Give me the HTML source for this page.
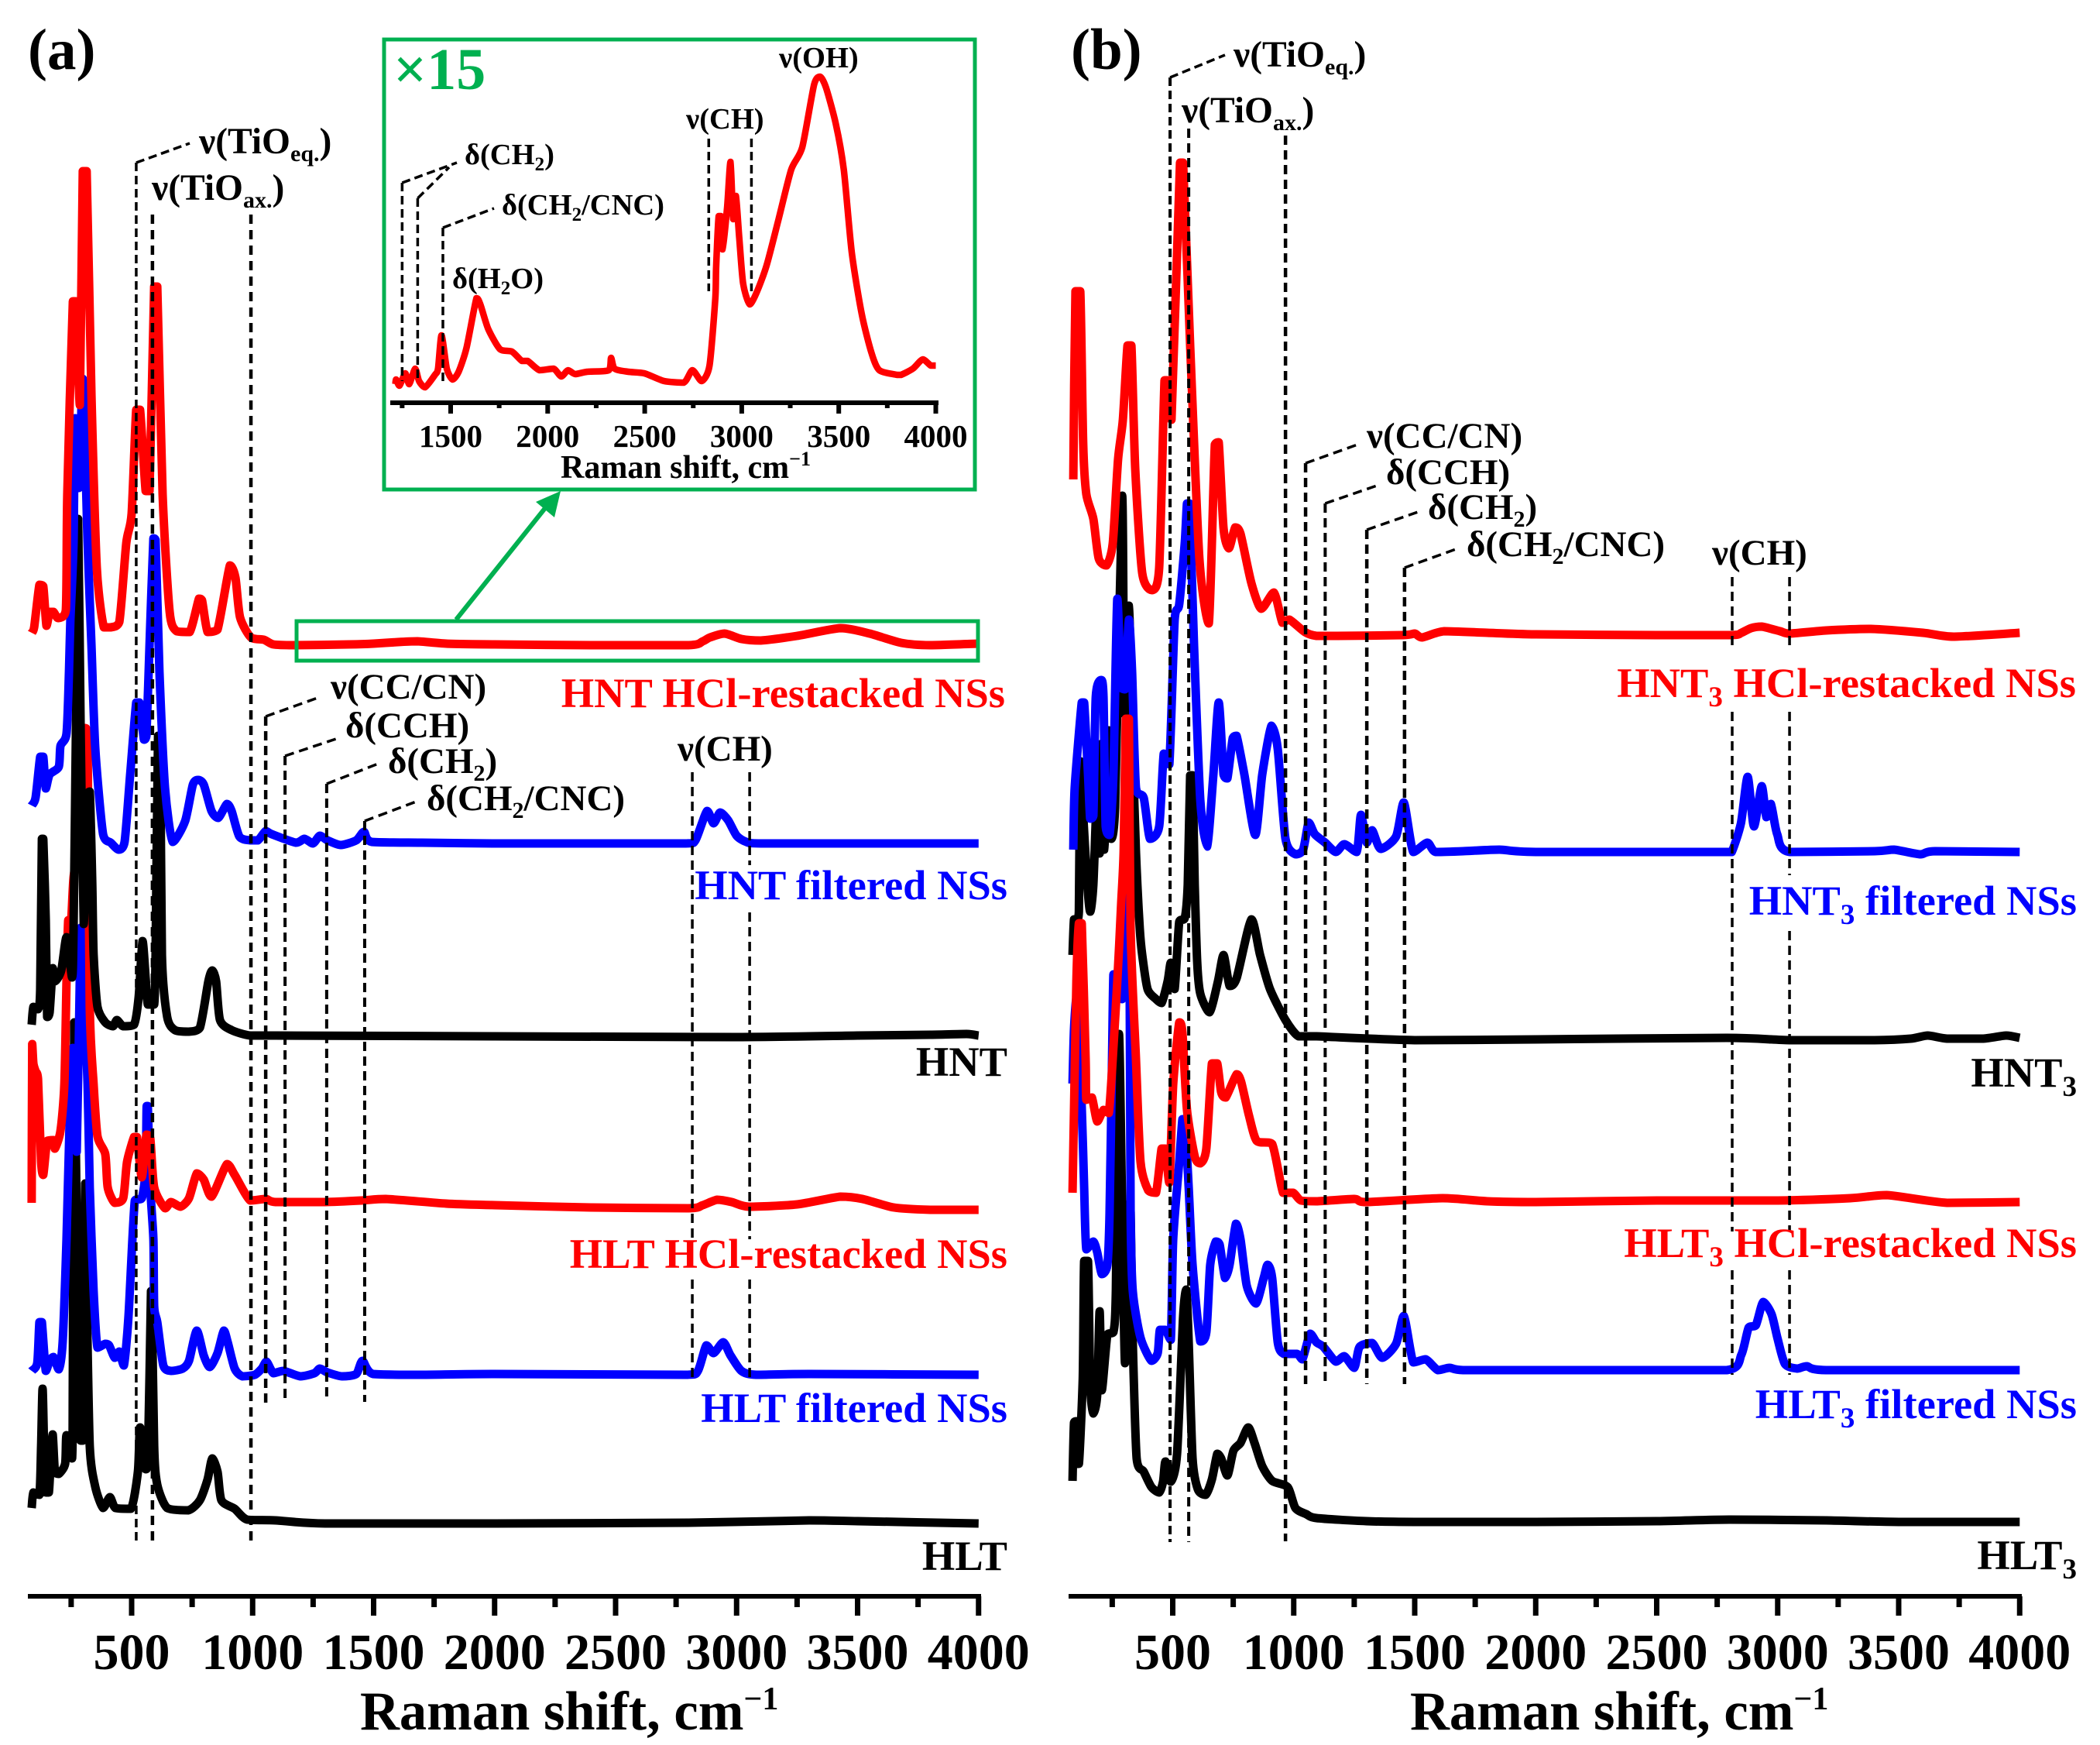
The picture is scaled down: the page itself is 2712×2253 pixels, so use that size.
<!DOCTYPE html>
<html lang="en">
<head>
<meta charset="utf-8">
<title>Raman spectra of layered titanate nanosheets</title>
<style>
html,body{margin:0;padding:0;background:#fff;}
svg{display:block;font-family:"Liberation Serif","DejaVu Serif",serif;font-weight:bold;}
</style>
</head>
<body>
<svg id="chart" xmlns="http://www.w3.org/2000/svg" width="2712" height="2253" viewBox="0 0 2712 2253">
<rect width="2712" height="2253" fill="#fff"/>
<g id="curves"></g>
<g id="guides"></g>
<g id="axes"></g>

<g>
<rect x="383" y="802" width="880" height="51" fill="none" stroke="#00b050" stroke-width="5"/>
<line x1="589" y1="800" x2="708" y2="651" stroke="#00b050" stroke-width="6"/>
<polygon points="724,634 716,668 692,648" fill="#00b050"/>
<rect x="496" y="51" width="763" height="581" fill="none" stroke="#00b050" stroke-width="5"/>
<text x="508" y="115" font-size="76" fill="#00b050">×15</text>
</g>
<g id="inset"></g>
<g id="guides2"></g>

<g font-size="38.5" fill="#000">
<text x="1006" y="87">ν(OH)</text>
<text x="886" y="166">ν(CH)</text>
<text x="600" y="212">δ(CH<tspan dy="8" font-size="25">2</tspan><tspan dy="-8">)</tspan></text>
<text x="648" y="277">δ(CH<tspan dy="8" font-size="25">2</tspan><tspan dy="-8">/CNC)</tspan></text>
<text x="584" y="372">δ(H<tspan dy="8" font-size="25">2</tspan><tspan dy="-8">O)</tspan></text>
<text x="724" y="617" font-size="42">Raman shift, cm<tspan dy="-16" font-size="26">−1</tspan></text>
</g>

<g font-size="47" fill="#000">
<text x="36" y="89" font-size="75">(a)</text>
<text x="257" y="198" font-size="47.5">ν(TiO<tspan dy="10" font-size="30">eq.</tspan><tspan dy="-10">)</tspan></text>
<text x="196" y="258" font-size="47.5">ν(TiO<tspan dy="10" font-size="30">ax.</tspan><tspan dy="-10">)</tspan></text>
<text x="427" y="902">ν(CC/CN)</text>
<text x="446" y="952">δ(CCH)</text>
<text x="501" y="998">δ(CH<tspan dy="10" font-size="30">2</tspan><tspan dy="-10">)</tspan></text>
<text x="551" y="1046">δ(CH<tspan dy="10" font-size="30">2</tspan><tspan dy="-10">/CNC)</tspan></text>
<text x="875" y="982">ν(CH)</text>
</g>
<g font-size="54.5" text-anchor="end">
<text x="1298" y="913" fill="#ff0000">HNT HCl-restacked NSs</text>
<text x="1301" y="1161" fill="#0000ff">HNT filtered NSs</text>
<text x="1301" y="1389" fill="#000">HNT</text>
<text x="1301" y="1637" fill="#ff0000">HLT HCl-restacked NSs</text>
<text x="1301" y="1836" fill="#0000ff">HLT filtered NSs</text>
<text x="1301" y="2027" fill="#000">HLT</text>
</g>
<text x="465" y="2233" font-size="70.5">Raman shift, cm<tspan dy="-26" font-size="42">−1</tspan></text>

<g font-size="47" fill="#000">
<text x="1383" y="89" font-size="75">(b)</text>
<text x="1593" y="86" font-size="47.5">ν(TiO<tspan dy="10" font-size="30">eq.</tspan><tspan dy="-10">)</tspan></text>
<text x="1526" y="158" font-size="47.5">ν(TiO<tspan dy="10" font-size="30">ax.</tspan><tspan dy="-10">)</tspan></text>
<text x="1765" y="578">ν(CC/CN)</text>
<text x="1790" y="625">δ(CCH)</text>
<text x="1844" y="670">δ(CH<tspan dy="10" font-size="30">2</tspan><tspan dy="-10">)</tspan></text>
<text x="1894" y="718">δ(CH<tspan dy="10" font-size="30">2</tspan><tspan dy="-10">/CNC)</tspan></text>
<text x="2211" y="729">ν(CH)</text>
</g>
<g font-size="54.5" text-anchor="end">
<text x="2681" y="900" fill="#ff0000">HNT<tspan dy="12" font-size="37">3</tspan><tspan dy="-12"> HCl-restacked NSs</tspan></text>
<text x="2682" y="1181" fill="#0000ff">HNT<tspan dy="12" font-size="37">3</tspan><tspan dy="-12"> filtered NSs</tspan></text>
<text x="2682" y="1403" fill="#000">HNT<tspan dy="12" font-size="37">3</tspan></text>
<text x="2682" y="1623" fill="#ff0000">HLT<tspan dy="12" font-size="37">3</tspan><tspan dy="-12"> HCl-restacked NSs</tspan></text>
<text x="2682" y="1831" fill="#0000ff">HLT<tspan dy="12" font-size="37">3</tspan><tspan dy="-12"> filtered NSs</tspan></text>
<text x="2682" y="2026" fill="#000">HLT<tspan dy="12" font-size="37">3</tspan></text>
</g>
<text x="1821" y="2233" font-size="70.5">Raman shift, cm<tspan dy="-26" font-size="42">−1</tspan></text>
</svg>

<script>
// ---------- shared axis data ----------
const tickValues = [500,1000,1500,2000,2500,3000,3500,4000];
const minorTickValues = [250,750,1250,1750,2250,2750,3250,3750];
const tickLabels = ['500','1000','1500','2000','2500','3000','3500','4000'];
const insetTickValues = [1500,2000,2500,3000,3500,4000];
const insetMinorTickValues = [1250,1750,2250,2750,3250,3750];
const insetTickLabels = ['1500','2000','2500','3000','3500','4000'];

// ---------- panel (a) ----------
const hntHclShift = [87,97,119,135,148,161,177,196,228,234,257,270,286,298,314,334,356,385,414,449,478,500,519,535,558,574,593,606,628,657,686,740,778,791,814,855,906,929,948,993,1047,1086,1169,1400,1500,1600,1680,1800,2000,2400,2800,2860,2890,2950,3020,3100,3250,3430,3550,3680,3800,4000];
const hntHclCounts = [16,23,78,76,25,43,43,35,45,195,444,444,310,612,612,323,100,23,23,30,132,170,304,304,199,199,463,463,195,43,18,17,60,58,17,20,103,87,36,10,7,1,0,1,2,4,5,2,1,0,0,5,10,15,8,6,12,22,15,3,0,2];

const hntFilteredShift = [87,103,122,135,145,161,199,206,231,241,247,260,266,282,298,318,334,350,382,414,446,471,494,519,532,551,561,574,590,599,615,638,670,721,753,775,798,830,858,894,913,945,990,1022,1054,1079,1179,1214,1249,1278,1310,1364,1428,1460,1492,1700,2000,2400,2790,2830,2878,2905,2932,2965,3000,3040,3100,4000];
const hntFilteredCounts = [49,59,112,112,71,89,99,126,142,222,289,389,549,459,600,389,256,122,12,1,-8,2,89,182,182,134,139,256,394,392,222,72,2,29,76,82,76,42,33,51,42,9,4,4,16,12,1,6,0,10,4,-2,4,15,2,1,0,0,0,4,42,26,40,30,10,2,0,0];

const hntShift = [87,94,113,122,129,135,145,151,161,174,183,209,231,254,260,270,279,289,302,314,327,337,343,359,391,423,439,465,510,529,545,558,567,593,599,609,618,625,647,679,734,782,817,833,849,865,913,990,1095,2000,3000,3500,3800,3950,4000];
const hntCounts = [15,38,35,60,255,255,150,25,31,88,71,85,128,76,138,400,668,400,145,300,316,200,105,38,18,13,21,13,15,51,123,75,41,41,105,388,388,105,25,8,6,11,71,85,71,21,8,1,1,0,-1,1,2,3,1];

const hltHclShift = [87,89,94,103,113,126,135,151,177,183,206,222,231,238,250,260,286,308,318,327,343,359,391,401,430,465,481,510,522,542,561,577,593,638,663,702,737,769,798,830,894,926,990,1054,1095,1300,1450,1550,1800,2000,2400,2800,2860,2920,2980,3050,3250,3430,3520,3650,3800,4000];
const hltHclCounts = [0,205,180,170,160,53,36,80,81,70,93,153,286,365,365,420,480,613,600,253,153,86,63,20,0,6,53,85,85,33,88,83,20,-7,1,-5,6,38,30,8,50,36,3,5,1,1,3,5,-1,-3,-6,-7,-3,4,1,-5,-2,8,5,-6,-9,-9];

const hltFilteredShift = [87,110,119,129,145,161,177,199,215,231,244,257,273,289,295,318,327,343,359,391,407,430,449,468,487,513,542,558,562,567,577,590,593,606,631,663,711,737,769,798,823,855,881,897,926,958,1009,1038,1057,1086,1127,1198,1255,1278,1310,1370,1428,1454,1498,1700,2000,2790,2840,2875,2905,2945,2975,3020,3080,3300,4000];
const hltFilteredCounts = [5,15,68,68,5,18,23,7,42,175,330,422,288,577,577,375,242,108,35,40,38,22,30,12,75,225,228,265,347,347,242,175,88,68,12,5,8,18,57,25,10,28,57,42,8,-2,0,8,17,2,5,-2,2,8,3,-2,1,18,1,0,1,0,5,38,28,42,25,5,0,1,0];

const hltShift = [87,94,119,126,132,138,145,158,167,174,183,199,225,231,254,257,263,276,289,298,308,314,327,350,382,410,433,497,526,535,558,567,580,583,593,606,647,734,782,814,833,855,871,926,977,1095,1300,2000,2800,3300,3500,4000];
const hltCounts = [20,40,37,100,174,100,40,40,90,115,67,64,77,114,84,200,647,300,107,107,439,300,100,47,20,34,20,19,67,124,70,77,300,300,100,50,20,17,30,57,84,67,30,19,5,4,0,0,1,4,3,0];

// ---------- panel (b) ----------
const hnt3HclShift = [89,98,118,130,143,172,194,226,252,274,294,313,329,345,374,415,444,466,479,495,530,543,572,610,649,674,690,710,732,758,780,825,866,918,953,982,1046,1094,1180,1452,1500,1530,1622,1800,2000,2500,2810,2850,2890,2934,3010,3049,3200,3385,3600,3727,4000];
const hnt3HclCounts = [201,444,444,246,182,150,99,90,118,227,278,374,374,214,80,58,87,329,329,278,610,610,374,99,15,246,249,138,112,139,131,67,34,55,16,20,4,-1,-1,0,2,-3,5,3,1,0,0,3,9,11,5,2,6,8,3,-2,3];

const hnt3FilteredShift = [89,95,124,134,150,159,172,182,204,214,223,239,255,271,287,303,319,332,348,380,406,444,463,486,508,527,550,559,569,588,614,642,668,690,710,726,748,764,796,841,870,908,934,966,1007,1039,1062,1087,1130,1174,1209,1260,1278,1302,1324,1359,1423,1455,1494,1552,1587,1700,1850,2000,2790,2810,2848,2876,2902,2934,2953,2972,2998,3049,3400,3480,3590,3650,4000];
const hnt3FilteredCounts = [3,83,193,193,100,43,47,200,222,200,33,22,100,327,213,210,300,233,83,70,17,33,127,113,300,320,400,450,450,267,67,7,100,193,100,95,147,150,100,22,100,163,133,17,-3,3,38,23,12,0,10,0,48,12,28,4,20,64,0,12,0,1,3,0,0,0,37,97,33,85,45,62,23,0,1,3,-3,1,0];

const hnt3Shift = [86,92,102,112,118,128,147,159,172,188,198,207,217,236,245,262,291,300,319,332,348,364,374,396,431,454,479,492,508,527,550,562,572,582,591,601,614,652,687,710,735,764,825,861,902,966,1020,1094,1500,2000,2790,3050,3400,3550,3620,3700,3850,3944,4000];
const hnt3Counts = [109,155,152,165,359,300,200,165,200,325,240,382,245,399,259,300,702,420,560,400,242,142,109,65,52,47,75,99,65,152,157,200,341,341,200,100,59,35,75,109,69,79,155,109,65,25,4,4,-1,0,2,-1,-1,1,5,1,1,5,2];

const hlt3HclShift = [86,102,112,124,140,143,166,188,214,236,252,271,287,297,306,313,319,326,348,367,399,431,454,470,486,502,527,540,559,591,614,639,662,684,700,719,764,783,815,847,911,956,998,1030,1094,1250,1300,1615,1800,2000,2500,3000,3300,3450,3700,4000];
const hlt3HclCounts = [13,286,361,361,186,133,136,105,120,116,186,286,386,453,625,625,625,353,186,53,16,13,70,70,26,153,233,220,120,60,51,70,180,180,143,136,166,156,113,80,76,13,13,3,2,5,1,6,2,1,3,3,6,10,0,1];

const hlt3FilteredShift = [86,92,102,112,124,134,143,172,188,207,230,239,249,255,265,291,300,313,322,326,335,367,412,438,447,470,492,502,527,540,550,566,582,614,639,655,678,694,716,735,761,780,806,844,876,892,911,934,959,1014,1036,1068,1094,1123,1174,1209,1250,1272,1324,1366,1423,1455,1494,1545,1596,1644,1700,2000,2790,2850,2880,2910,2940,2975,3000,3030,3080,3120,3200,4000];
const hlt3FilteredCounts = [370,440,480,400,339,236,156,166,152,124,136,202,400,511,500,479,570,669,500,202,102,42,12,22,52,52,39,169,269,324,324,236,136,37,49,136,166,162,119,136,189,169,109,86,119,136,119,36,21,21,14,47,36,30,11,18,3,30,35,16,34,70,10,14,0,3,0,0,0,20,55,58,88,72,40,8,2,5,0,0];

const hlt3Shift = [86,92,102,112,128,134,150,159,172,188,198,207,230,255,265,278,291,303,316,326,335,351,380,412,444,460,470,492,518,543,556,566,582,604,636,662,684,700,726,751,780,812,838,870,911,975,1007,1052,1094,1300,1500,2000,2500,2800,3200,3500,4000];
const hlt3Counts = [53,128,130,75,185,337,337,178,140,165,272,170,242,245,300,630,400,205,410,400,232,82,65,45,38,52,78,52,88,265,300,232,82,42,35,55,88,82,60,92,102,122,102,72,53,45,18,10,5,1,0,0,1,3,2,0,0];

// ---------- inset ----------
const insetShift = [1215,1219,1236,1266,1286,1317,1337,1368,1419,1435,1453,1480,1510,1541,1582,1633,1653,1694,1755,1816,1867,1897,1958,2030,2070,2105,2142,2203,2315,2327,2345,2416,2498,2600,2701,2746,2793,2834,2864,2868,2881,2893,2901,2925,2942,2956,2970,2987,3007,3041,3078,3129,3190,3255,3312,3373,3404,3434,3485,3526,3567,3618,3669,3709,3801,3821,3882,3933,3974,4000];
const insetCounts = [0,6,-2,14,0,20,4,-4,12,20,63,20,6,16,47,111,103,71,45,42,30,30,18,20,10,18,13,16,18,34,20,16,14,4,2,18,4,24,111,150,217,217,174,229,287,213,243,190,130,103,119,154,213,277,306,387,397,383,336,277,170,91,40,18,12,12,20,32,24,24];

// ---------- guide-line wavenumbers ----------
const guideShiftsA = [519,586,993,1054,1134,1306,1463,2817,3054];
const guideShiftsB = [489,566,966,1049,1130,1302,1458,2812,3049];
const insetGuideShifts = [1250,1330,1460,2830,3050];

// ---------- axis functions ----------
const xA = v => 170 + (v - 500) * 0.3125;
const xB = v => 1514.5 + (v - 500) * 0.3125;
const xI = v => 582 + (v - 1500) * 0.2506;
const yCounts = (offset, c) => offset - c;

const SVGNS = 'http://www.w3.org/2000/svg';
function mk(tag, attrs, parent) {
  const el = document.createElementNS(SVGNS, tag);
  for (const k in attrs) el.setAttribute(k, attrs[k]);
  parent.appendChild(el);
  return el;
}
function clampTo(v, a, b) {
  const lo = Math.min(a, b), hi = Math.max(a, b);
  return Math.max(lo, Math.min(hi, v));
}
function smoothPath(pts) {
  const k = 0.12;
  let d = 'M' + pts[0][0].toFixed(1) + ' ' + pts[0][1].toFixed(1);
  for (let i = 0; i < pts.length - 1; i++) {
    const p0 = pts[Math.max(i - 1, 0)], p1 = pts[i], p2 = pts[i + 1], p3 = pts[Math.min(i + 2, pts.length - 1)];
    const c1x = clampTo(p1[0] + (p2[0] - p0[0]) * k, p1[0], p2[0]);
    const c1y = clampTo(p1[1] + (p2[1] - p0[1]) * k, p1[1], p2[1]);
    const c2x = clampTo(p2[0] - (p3[0] - p1[0]) * k, p1[0], p2[0]);
    const c2y = clampTo(p2[1] - (p3[1] - p1[1]) * k, p1[1], p2[1]);
    d += 'C' + c1x.toFixed(1) + ' ' + c1y.toFixed(1) + ' ' + c2x.toFixed(1) + ' ' + c2y.toFixed(1) + ' ' + p2[0].toFixed(1) + ' ' + p2[1].toFixed(1);
  }
  return d;
}
const curves = document.getElementById('curves');
function drawSeries(name, xFn, shift, counts, offset, color, width, parent) {
  const pts = shift.map((v, i) => [xFn(v), yCounts(offset, counts[i])]);
  const path = mk('path', {d: smoothPath(pts), fill: 'none', stroke: color, 'stroke-width': width, 'stroke-linejoin': 'round', 'stroke-linecap': 'butt'}, parent || curves);
  
  
}

// Panel (a), drawing order bottom to top
drawSeries('series-hlt', xA, hltShift, hltCounts, 1967, '#000', 11);
drawSeries('series-hlt-filtered', xA, hltFilteredShift, hltFilteredCounts, 1775, '#0000ff', 11);
drawSeries('series-hlt-hcl', xA, hltHclShift, hltHclCounts, 1553, '#ff0000', 11);
drawSeries('series-hnt', xA, hntShift, hntCounts, 1338, '#000', 11);
drawSeries('series-hnt-filtered', xA, hntFilteredShift, hntFilteredCounts, 1089, '#0000ff', 11);
drawSeries('series-hnt-hcl', xA, hntHclShift, hntHclCounts, 833, '#ff0000', 11);

// Panel (b)
drawSeries('series-hlt3', xB, hlt3Shift, hlt3Counts, 1965, '#000', 11);
drawSeries('series-hlt3-filtered', xB, hlt3FilteredShift, hlt3FilteredCounts, 1769, '#0000ff', 11);
drawSeries('series-hnt3', xB, hnt3Shift, hnt3Counts, 1342, '#000', 11);
drawSeries('series-hnt3-filtered', xB, hnt3FilteredShift, hnt3FilteredCounts, 1100, '#0000ff', 11);
drawSeries('series-hlt3-hcl', xB, hlt3HclShift, hlt3HclCounts, 1553, '#ff0000', 11);
drawSeries('series-hnt3-hcl', xB, hnt3HclShift, hnt3HclCounts, 820, '#ff0000', 11);

// Inset curve
drawSeries('inset-series', xI, insetShift, insetCounts, 496, '#ff0000', 8.5, document.getElementById('inset'));

// ---------- axes ----------
const axesG = document.getElementById('axes');
function drawAxis(prefix, xFn, left, right, y, majW, majLen, minLen, axW, fontSize, labelY, ticks, minors, labels, parent) {
  const line = mk('line', {x1: left, x2: right, y1: y, y2: y, stroke: '#000', 'stroke-width': axW}, parent);
  
  
  ticks.forEach((v, i) => {
    const t = mk('line', {x1: xFn(v), x2: xFn(v), y1: y, y2: y + majLen, stroke: '#000', 'stroke-width': majW}, parent);
    
    
    const lab = mk('text', {x: xFn(v), y: labelY, 'font-size': fontSize, 'text-anchor': 'middle', fill: '#000'}, parent);
    lab.textContent = labels[i];
    
    
  });
  minors.forEach(v => {
    const t = mk('line', {x1: xFn(v), x2: xFn(v), y1: y, y2: y + minLen, stroke: '#000', 'stroke-width': majW}, parent);
    
    
  });
}
drawAxis('panel-a', xA, 36, 1267, 2061, 7, 25, 14, 6, 66, 2155, tickValues, minorTickValues, tickLabels, axesG);
drawAxis('panel-b', xB, 1380, 2611, 2061, 7, 25, 14, 6, 66, 2155, tickValues, minorTickValues, tickLabels, axesG);
drawAxis('inset', xI, 504, 1212, 520, 6, 14, 7, 6, 41, 577, insetTickValues, insetMinorTickValues, insetTickLabels, document.getElementById('inset'));

// ---------- dashed guides ----------
const guidesG = document.getElementById('guides');
function guide(name, x, segments, leader, w, dash, parent) {
  let d = segments.map(s => 'M' + x + ' ' + s[0] + 'L' + x + ' ' + s[1]).join('');
  const p = mk('path', {d: d, fill: 'none', stroke: '#000', 'stroke-width': w, 'stroke-dasharray': dash}, parent || guidesG);
  
  
  if (leader) {
    const l = mk('path', {d: 'M' + x + ' ' + segments[0][0] + 'L' + leader[0] + ' ' + leader[1], fill: 'none', stroke: '#000', 'stroke-width': 3.5, 'stroke-dasharray': dash}, parent || guidesG);
    
    
  }
}
// panel a
guide('guide-tio-eq', xA(guideShiftsA[0]), [[210,1991]], [245,185], 3.5, '11 6');
guide('guide-tio-ax-left', xA(guideShiftsA[1]), [[277,1991]], null, 4.5, '12 8');
guide('guide-tio-ax-right', xA(guideShiftsA[2]), [[277,1990]], null, 4.5, '12 8');
guide('guide-cc-cn', xA(guideShiftsA[3]), [[925,1811]], [413,900], 4.5, '12 7');
guide('guide-cch', xA(guideShiftsA[4]), [[976,1811]], [437,953], 4, '12 7');
guide('guide-ch2', xA(guideShiftsA[5]), [[1012,1810]], [491,985], 4, '12 7');
guide('guide-ch2-cnc', xA(guideShiftsA[6]), [[1060,1810]], [540,1034], 4, '12 7');
guide('guide-ch-left', xA(guideShiftsA[7]), [[997,1600],[1652,1779]], null, 3.5, '12 7');
guide('guide-ch-right', xA(guideShiftsA[8]), [[997,1117],[1178,1600],[1652,1779]], null, 3.5, '12 7');
// panel b
guide('guide-b-tio-eq', xB(guideShiftsB[0]), [[100,1991]], [1582,71], 4, '11 6');
guide('guide-b-tio-ax-left', xB(guideShiftsB[1]), [[166,1991]], null, 4, '12 7');
guide('guide-b-tio-ax-right', xB(guideShiftsB[2]), [[175,1990]], null, 4.5, '12 7');
guide('guide-b-cc-cn', xB(guideShiftsB[3]), [[598,1787]], [1756,573], 4.5, '12 7');
guide('guide-b-cch', xB(guideShiftsB[4]), [[650,1787]], [1781,626], 4, '12 7');
guide('guide-b-ch2', xB(guideShiftsB[5]), [[684,1787]], [1834,660], 4.5, '12 7');
guide('guide-b-ch2-cnc', xB(guideShiftsB[6]), [[733,1787]], [1883,708], 4.5, '12 7');
guide('guide-b-ch-left', xB(guideShiftsB[7]), [[745,840],[919,1590],[1640,1775]], null, 3.5, '12 7');
guide('guide-b-ch-right', xB(guideShiftsB[8]), [[745,840],[919,1130],[1202,1590],[1640,1775]], null, 3.5, '12 7');
// inset
const g2 = document.getElementById('guides2');
guide('inset-guide-ch2-a', xI(insetGuideShifts[0]), [[236,492]], [590,210], 3.5, '11 6', g2);
guide('inset-guide-ch2-b', xI(insetGuideShifts[1]), [[256,492]], [580,216], 3.5, '11 6', g2);
guide('inset-guide-ch2-cnc', xI(insetGuideShifts[2]), [[294,492]], [638,269], 3.5, '11 6', g2);
guide('inset-guide-ch-left', xI(insetGuideShifts[3]), [[179,376]], null, 3.5, '11 6', g2);
guide('inset-guide-ch-right', xI(insetGuideShifts[4]), [[179,376]], null, 3.5, '11 6', g2);
</script>
</body>
</html>
